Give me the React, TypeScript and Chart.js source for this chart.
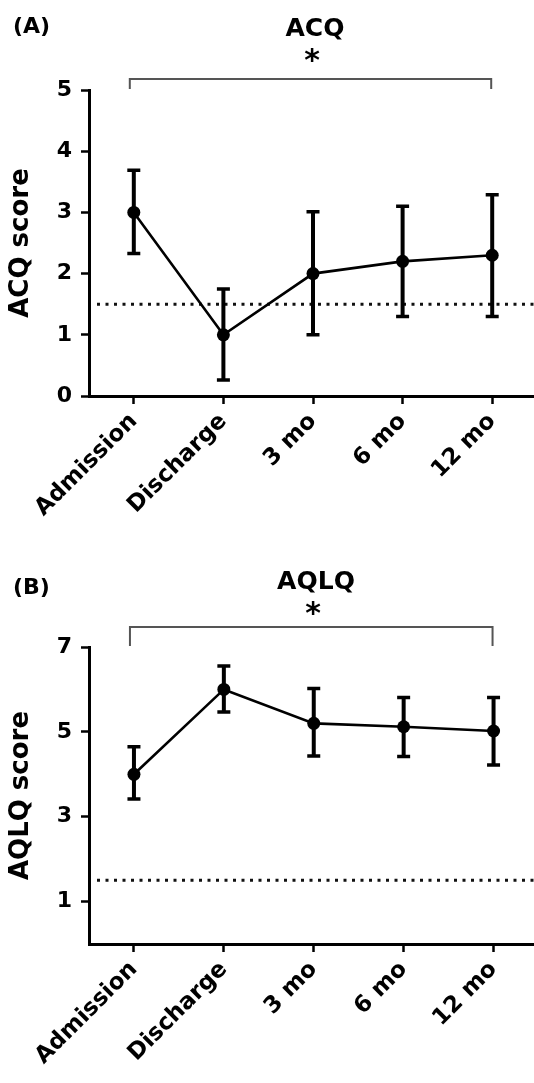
import React, { useEffect, useRef } from 'react';
import { Chart, registerables } from 'chart.js';

Chart.register(...registerables);
Chart.defaults.font.family = "'DejaVu Sans', sans-serif";

const categories = ['Admission', 'Discharge', '3 mo', '6 mo', '12 mo'];

const acqMean = [3.0, 1.0, 2.0, 2.2, 2.3];
const acqLow = [2.33, 0.26, 1.0, 1.3, 1.3];
const acqHigh = [3.69, 1.75, 3.01, 3.1, 3.29];
const acqTicks = [0, 1, 2, 3, 4, 5];

const aqlqMean = [4.0, 6.0, 5.2, 5.12, 5.02];
const aqlqLow = [3.42, 5.47, 4.43, 4.42, 4.22];
const aqlqHigh = [4.65, 6.55, 6.02, 5.81, 5.81];
const aqlqTicks = [1, 3, 5, 7];

const acqThreshold = 1.5;
const aqlqThreshold = 1.5;

type PanelProps = {
  mean: number[];
  low: number[];
  high: number[];
  ticks: number[];
  yMin: number;
  yMax: number;
  yTitle: string;
  threshold: number;
  top: number;
  height: number;
  padTop: number;
  padRight: number;
  xHeight: number;
  bracketDrop: number;
};

function Panel(p: PanelProps) {
  const ref = useRef<HTMLCanvasElement>(null);
  useEffect(() => {
    const canvas = ref.current!;
    const extras = {
      id: 'extras',
      beforeDatasetsDraw(chart: any) {
        const { ctx, chartArea, scales } = chart;
        const y = scales.y.getPixelForValue(p.threshold);
        ctx.save();
        ctx.setLineDash([3, 5.5]);
        ctx.lineWidth = 3;
        ctx.strokeStyle = '#111';
        ctx.beginPath();
        ctx.moveTo(chartArea.left + 8, y);
        ctx.lineTo(chart.width, y);
        ctx.stroke();
        ctx.restore();
      },
      afterDatasetsDraw(chart: any) {
        const { ctx, scales } = chart;
        ctx.save();
        ctx.strokeStyle = '#000';
        ctx.lineCap = 'butt';
        p.mean.forEach((_, i) => {
          const x = scales.x.getPixelForValue(i);
          const yl = scales.y.getPixelForValue(p.low[i]);
          const yh = scales.y.getPixelForValue(p.high[i]);
          ctx.lineWidth = 4;
          ctx.beginPath();
          ctx.moveTo(x, yl);
          ctx.lineTo(x, yh);
          ctx.stroke();
          ctx.lineWidth = 3.5;
          ctx.beginPath();
          ctx.moveTo(x - 6.5, yl);
          ctx.lineTo(x + 6.5, yl);
          ctx.moveTo(x - 6.5, yh);
          ctx.lineTo(x + 6.5, yh);
          ctx.stroke();
        });
        ctx.restore();
      },
      afterDraw(chart: any) {
        const { ctx, chartArea, scales } = chart;
        const x0 = scales.x.getPixelForValue(0) - 4;
        const x1 = scales.x.getPixelForValue(p.mean.length - 1) - 1;
        const yb = chartArea.top - 1;
        const yt = chartArea.top - p.bracketDrop;
        ctx.save();
        ctx.strokeStyle = '#555';
        ctx.lineWidth = 2;
        ctx.beginPath();
        ctx.moveTo(x0, yb);
        ctx.lineTo(x0, yt);
        ctx.lineTo(x1, yt);
        ctx.lineTo(x1, yb);
        ctx.stroke();
        ctx.restore();
      },
    };
    const chart = new Chart(canvas, {
      type: 'line',
      data: {
        labels: categories,
        datasets: [
          {
            data: p.mean,
            borderColor: '#000',
            borderWidth: 2.6,
            pointRadius: 6.5,
            pointBackgroundColor: '#000',
            pointBorderColor: '#000',
            pointBorderWidth: 0,
            tension: 0,
            clip: false as any,
          },
        ],
      },
      options: {
        responsive: false,
        animation: false,
        devicePixelRatio: 1,
        layout: { padding: { top: p.padTop, right: p.padRight, left: 0, bottom: 0 } },
        plugins: { legend: { display: false }, tooltip: { enabled: false } },
        scales: {
          x: {
            type: 'category',
            offset: true,
            grid: {
              display: true,
              drawOnChartArea: false,
              offset: false,
              tickLength: 8,
              tickWidth: 2.5,
              tickColor: '#000',
            },
            border: { display: true, color: '#000', width: 3 },
            ticks: {
              color: '#000',
              font: { size: 23, weight: 'bold' },
              maxRotation: 45,
              minRotation: 45,
              padding: 4,
              autoSkip: false,
            },
            afterFit: (s: any) => {
              s.height = p.xHeight;
            },
          },
          y: {
            min: p.yMin,
            max: p.yMax,
            afterBuildTicks: (s: any) => {
              s.ticks = p.ticks.map((v) => ({ value: v }));
            },
            grid: {
              display: true,
              drawOnChartArea: false,
              tickLength: 8,
              tickWidth: 2.5,
              tickColor: '#000',
            },
            border: { display: true, color: '#000', width: 3 },
            ticks: {
              color: '#000',
              font: { size: 22, weight: 'bold' },
              padding: 9,
            },
            title: {
              display: true,
              text: p.yTitle,
              color: '#000',
              font: { size: 26, weight: 'bold' },
              padding: { top: 6, bottom: 0 },
            },
            afterFit: (s: any) => {
              s.width = 89;
            },
          },
        },
      },
      plugins: [extras],
    } as any);
    return () => chart.destroy();
  }, []);
  return (
    <canvas
      ref={ref}
      width={545}
      height={p.height}
      style={{ position: 'absolute', left: 0, top: p.top, width: 545, height: p.height }}
    />
  );
}

const textBase: React.CSSProperties = {
  position: 'absolute',
  fontFamily: "'DejaVu Sans', sans-serif",
  fontWeight: 'bold',
  lineHeight: 1,
  color: '#000',
  whiteSpace: 'nowrap',
};

function Label({ text, x, y, size, center }: { text: string; x: number; y: number; size: number; center?: boolean }) {
  return (
    <div
      style={{
        ...textBase,
        left: x,
        top: y,
        fontSize: size,
        transform: center ? 'translate(-50%, -50%)' : 'translateY(-50%)',
      }}
    >
      {text}
    </div>
  );
}

export default function App() {
  return (
    <div
      style={{
        position: 'absolute',
        left: 0,
        top: 0,
        width: 534,
        height: 1083,
        overflow: 'hidden',
        background: '#fff',
      }}
    >
      <Panel
        mean={acqMean}
        low={acqLow}
        high={acqHigh}
        ticks={acqTicks}
        yMin={0}
        yMax={5}
        yTitle="ACQ score"
        threshold={acqThreshold}
        top={0}
        height={540}
        padTop={90}
        padRight={8}
        xHeight={144}
        bracketDrop={11}
      />
      <Panel
        mean={aqlqMean}
        low={aqlqLow}
        high={aqlqHigh}
        ticks={aqlqTicks}
        yMin={0}
        yMax={7}
        yTitle="AQLQ score"
        threshold={aqlqThreshold}
        top={540}
        height={543}
        padTop={107}
        padRight={4}
        xHeight={139}
        bracketDrop={20}
      />
      <Label text="(A)" x={13} y={26} size={22} />
      <Label text="ACQ" x={315} y={27} size={25} center />
      <Label text="*" x={312} y={60} size={30} center />
      <Label text="(B)" x={13} y={587} size={22} />
      <Label text="AQLQ" x={316} y={580} size={25} center />
      <Label text="*" x={313} y={613} size={30} center />
    </div>
  );
}
